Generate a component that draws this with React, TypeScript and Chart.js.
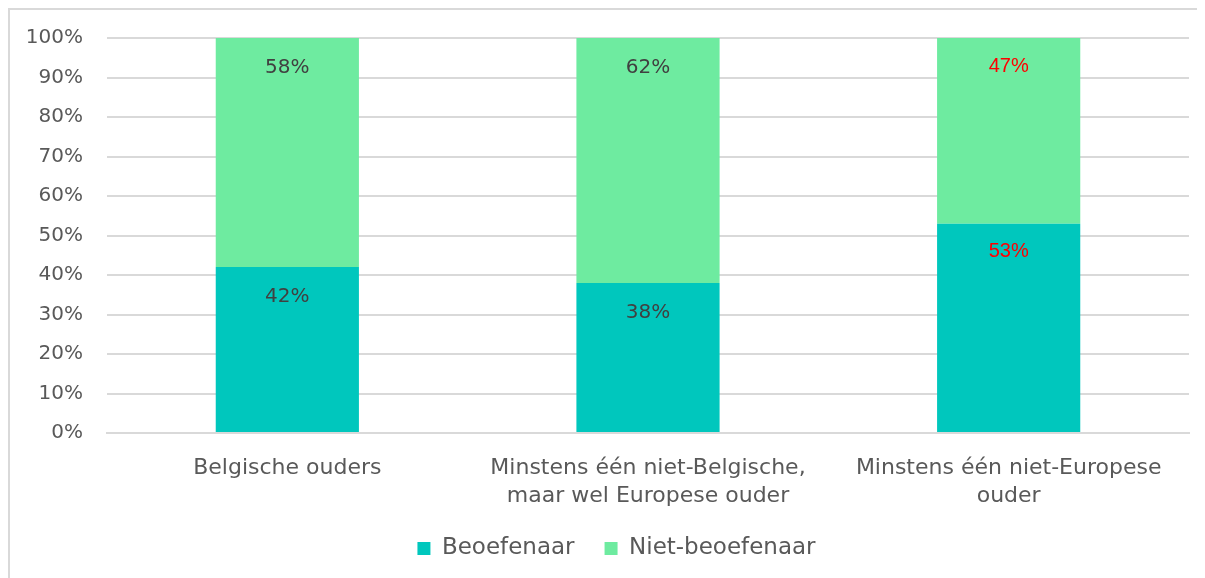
import React, { useEffect, useRef } from "react";
import { Chart, registerables } from "chart.js";

Chart.register(...registerables);

const categories: string[][] = [
  ["Belgische ouders"],
  ["Minstens één niet-Belgische,", "maar wel Europese ouder"],
  ["Minstens één niet-Europese", "ouder"],
];
const beoefenaar = [42, 38, 53];
const nietBeoefenaar = [58, 62, 47];
const yTicks = [0, 10, 20, 30, 40, 50, 60, 70, 80, 90, 100];
const labelColorsBeo = ["#404040", "#404040", "#FF0000"];
const labelColorsNiet = ["#404040", "#404040", "#FF0000"];

const FONT = "'DejaVu Sans', sans-serif";

const dataLabelPlugin = {
  id: "dataLabels",
  afterDatasetsDraw(chart: any) {
    const ctx = chart.ctx;
    ctx.save();
    ctx.textAlign = "center";
    ctx.textBaseline = "middle";
    chart.data.datasets.forEach((ds: any, di: number) => {
      const meta = chart.getDatasetMeta(di);
      const colors = di === 0 ? labelColorsBeo : labelColorsNiet;
      meta.data.forEach((el: any, i: number) => {
        const red = colors[i] === "#FF0000";
        ctx.fillStyle = colors[i];
        ctx.font = red ? "20px 'Liberation Sans', sans-serif" : `20px ${FONT}`;
        const top = Math.min(el.y, el.base);
        ctx.fillText(`${ds.data[i]}%`, el.x, top + (red ? 28 : 30));
      });
    });
    ctx.restore();
  },
};

const legendShiftPlugin = {
  id: "legendShift",
  afterLayout(chart: any) {
    const lg = chart.legend;
    if (lg) {
      lg.left += 17;
      lg.right += 17;
    }
  },
};

export default function App() {
  const ref = useRef<HTMLCanvasElement | null>(null);
  useEffect(() => {
    if (!ref.current) return;
    const chart = new Chart(ref.current, {
      type: "bar",
      data: {
        labels: categories,
        datasets: [
          {
            label: "Beoefenaar",
            data: beoefenaar,
            backgroundColor: "#00C7BD",
            barPercentage: 0.397,
            categoryPercentage: 1,
          },
          {
            label: "Niet-beoefenaar",
            data: nietBeoefenaar,
            backgroundColor: "#6EEBA0",
            barPercentage: 0.397,
            categoryPercentage: 1,
          },
        ],
      },
      options: {
        responsive: false,
        animation: false,
        layout: { padding: { left: 0, right: 41, top: 28, bottom: 8 } },
        plugins: {
          legend: {
            position: "bottom",
            labels: {
              boxWidth: 13,
              boxHeight: 13,
              padding: 30,
              color: "#595959",
              font: { family: FONT, size: 23 },
            },
          },
          tooltip: { enabled: false },
          title: { display: false },
        },
        scales: {
          x: {
            stacked: true,
            grid: { display: false, drawTicks: false },
            border: { color: "#D9D9D9", width: 2 },
            ticks: {
              color: "#595959",
              padding: 21,
              maxRotation: 0,
              autoSkip: false,
              font: { family: FONT, size: 22, lineHeight: 1.27 },
            },
            afterFit: (s: any) => {
              s.height = 74;
            },
          },
          y: {
            stacked: true,
            min: 0,
            max: 100,
            afterBuildTicks: (s: any) => {
              s.ticks = yTicks.map((v) => ({ value: v }));
            },
            grid: { color: "#D9D9D9", lineWidth: 2, drawTicks: false },
            border: { display: false },
            ticks: {
              color: "#595959",
              padding: 24,
              font: { family: FONT, size: 20 },
              callback: (v: any) => `${v}%`,
            },
            afterFit: (s: any) => {
              s.width = 97;
              s.paddingTop = 0;
              s.paddingBottom = 0;
            },
          },
        },
      },
      plugins: [dataLabelPlugin, legendShiftPlugin],
    });
    return () => chart.destroy();
  }, []);

  return (
    <div
      style={{
        width: 1220,
        height: 568,
        border: "2px solid #D9D9D9",
        background: "#fff",
      }}
    >
      <canvas ref={ref} width={1220} height={568} style={{ display: "block" }} />
    </div>
  );
}
